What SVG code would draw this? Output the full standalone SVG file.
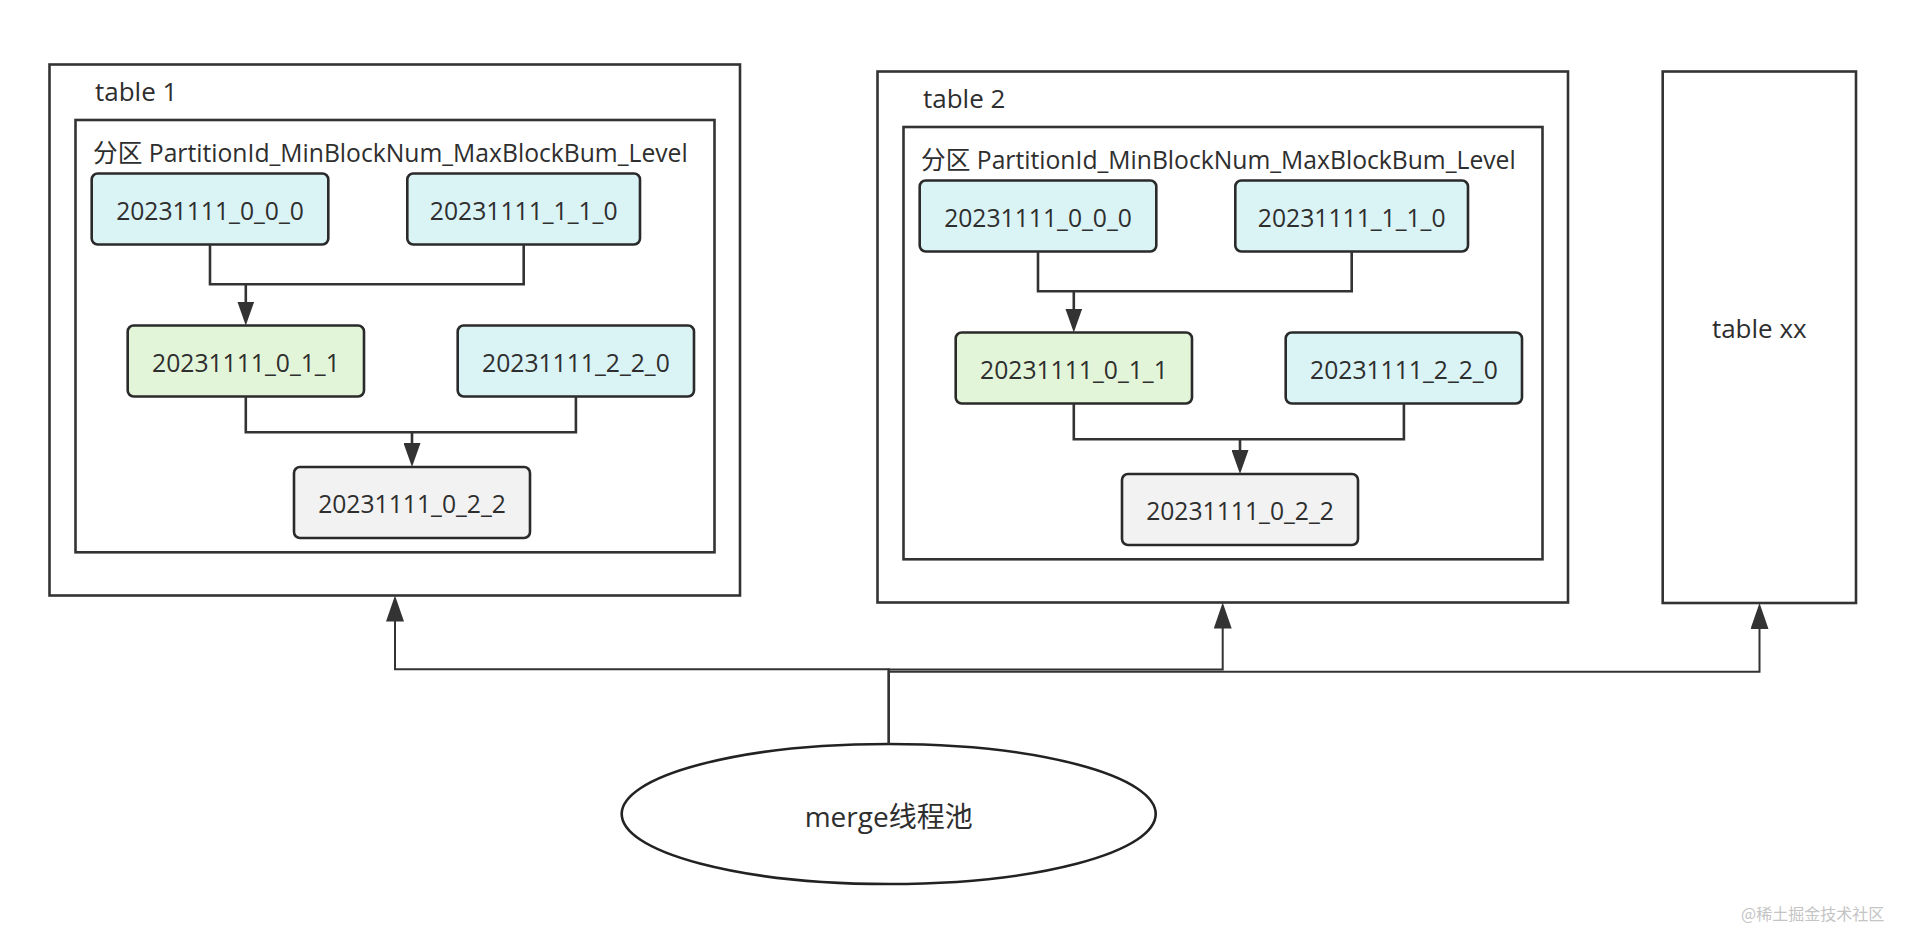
<svg xmlns="http://www.w3.org/2000/svg" width="1906" height="934" viewBox="0 0 1906 934">
<style>
  .frame { fill: #ffffff; stroke: #333333; stroke-width: 2.6; }
  .node { stroke: #2a2a2a; stroke-width: 2.6; }
  .cyan { fill: #daf3f5; }
  .green { fill: #e3f5d8; }
  .gray { fill: #f2f2f2; }
  .lbl { font-family: "Open Sans", "Noto Sans CJK SC", sans-serif; font-size: 24.7px; fill: #2e2e2e; text-anchor: middle; }
  .title { font-family: "Open Sans", "Noto Sans CJK SC", sans-serif; font-size: 24.7px; fill: #2e2e2e; }
  .tname { font-family: "Open Sans", "Noto Sans CJK SC", sans-serif; font-size: 26px; fill: #2e2e2e; }
  .link { fill: none; stroke: #333333; stroke-width: 2.6; }
  .olink { fill: none; stroke: #333333; stroke-width: 2; }
</style>
<defs>
  <marker id="arrIn" markerUnits="userSpaceOnUse" markerWidth="24" markerHeight="17" refX="1" refY="8.5" orient="auto">
    <path d="M0,0 L24,8.5 L0,17 Z" fill="#333333"/>
  </marker>
  <marker id="arrOut" markerUnits="userSpaceOnUse" markerWidth="26" markerHeight="18" refX="1" refY="9" orient="auto">
    <path d="M0,0 L26,9 L0,18 Z" fill="#333333"/>
  </marker>
</defs>
<rect width="1906" height="934" fill="#ffffff"/>

<!-- table 1 -->
<g id="table1">
  <rect class="frame" x="49.5" y="64.5" width="690.5" height="531"/>
  <text class="tname" x="95" y="101">table 1</text>
</g>
<g id="partition1">
  <rect class="frame" x="75.5" y="120" width="639" height="432.3"/>
  <text class="title" x="93" y="162.3">分区 PartitionId_MinBlockNum_MaxBlockBum_Level</text>
</g>
<g id="t1_20231111_0_0_0">
  <rect class="node cyan" x="91.7" y="173.5" width="236.6" height="71" rx="6"/>
  <text class="lbl" x="210" y="219.5">20231111_0_0_0</text>
</g>
<g id="t1_20231111_1_1_0">
  <rect class="node cyan" x="407.3" y="173.5" width="232.7" height="71" rx="6"/>
  <text class="lbl" x="523.7" y="219.5">20231111_1_1_0</text>
</g>
<g id="t1_20231111_0_1_1">
  <rect class="node green" x="127.7" y="325.5" width="236.3" height="71" rx="6"/>
  <text class="lbl" x="245.9" y="371.5">20231111_0_1_1</text>
</g>
<g id="t1_20231111_2_2_0">
  <rect class="node cyan" x="457.7" y="325.5" width="236.3" height="71" rx="6"/>
  <text class="lbl" x="575.9" y="371.5">20231111_2_2_0</text>
</g>
<g id="t1_20231111_0_2_2">
  <rect class="node gray" x="294" y="467" width="236" height="71" rx="6"/>
  <text class="lbl" x="412" y="513">20231111_0_2_2</text>
</g>

<!-- table 2 -->
<g id="table2">
  <rect class="frame" x="877.5" y="71.5" width="690.5" height="531"/>
  <text class="tname" x="923" y="108">table 2</text>
</g>
<g id="partition2">
  <rect class="frame" x="903.5" y="127" width="639" height="432.3"/>
  <text class="title" x="921" y="169.3">分区 PartitionId_MinBlockNum_MaxBlockBum_Level</text>
</g>
<g id="t2_20231111_0_0_0">
  <rect class="node cyan" x="919.7" y="180.5" width="236.6" height="71" rx="6"/>
  <text class="lbl" x="1038" y="226.5">20231111_0_0_0</text>
</g>
<g id="t2_20231111_1_1_0">
  <rect class="node cyan" x="1235.3" y="180.5" width="232.7" height="71" rx="6"/>
  <text class="lbl" x="1351.7" y="226.5">20231111_1_1_0</text>
</g>
<g id="t2_20231111_0_1_1">
  <rect class="node green" x="955.7" y="332.5" width="236.3" height="71" rx="6"/>
  <text class="lbl" x="1073.9" y="378.5">20231111_0_1_1</text>
</g>
<g id="t2_20231111_2_2_0">
  <rect class="node cyan" x="1285.7" y="332.5" width="236.3" height="71" rx="6"/>
  <text class="lbl" x="1403.9" y="378.5">20231111_2_2_0</text>
</g>
<g id="t2_20231111_0_2_2">
  <rect class="node gray" x="1122" y="474" width="236" height="71" rx="6"/>
  <text class="lbl" x="1240" y="520">20231111_0_2_2</text>
</g>

<!-- table xx -->
<g id="tablexx">
  <rect class="frame" x="1662.7" y="71.5" width="193.3" height="531.5"/>
  <text class="tname" x="1759.3" y="338" text-anchor="middle">table xx</text>
</g>

<!-- merge pool -->
<g id="mergepool">
  <ellipse cx="888.7" cy="814" rx="267" ry="70" fill="#ffffff" stroke="#222222" stroke-width="2.6"/>
  <text x="888.7" y="826.5" text-anchor="middle" font-family="'Open Sans', 'Noto Sans CJK SC', sans-serif" font-size="28" fill="#2e2e2e">merge线程池</text>
</g>

<!-- connectors -->
<g id="connectors">
  <path class="link" d="M210,244.5 V284.3 H523.7 V244.5"/>
  <path class="link" d="M245.8,284.3 V302.5" marker-end="url(#arrIn)"/>
  <path class="link" d="M245.8,396.5 V432.3 H575.9 V396.5"/>
  <path class="link" d="M412,432.3 V444" marker-end="url(#arrIn)"/>

  <path class="link" d="M1038,251.5 V291.3 H1351.7 V251.5"/>
  <path class="link" d="M1073.8,291.3 V309.5" marker-end="url(#arrIn)"/>
  <path class="link" d="M1073.8,403.5 V439.3 H1403.9 V403.5"/>
  <path class="link" d="M1240,439.3 V451" marker-end="url(#arrIn)"/>

  <path class="olink" d="M888.7,744 V669.3 H395 V620.5" marker-end="url(#arrOut)"/>
  <path class="olink" d="M888.7,744 V669.5 H1222.7 V627.5" marker-end="url(#arrOut)"/>
  <path class="olink" d="M888.7,744 V671.7 H1759.5 V628" marker-end="url(#arrOut)"/>
</g>

<text x="1741" y="920" font-family="'Noto Sans CJK SC', sans-serif" font-size="16" fill="#c4c4c4">@稀土掘金技术社区</text>
</svg>
